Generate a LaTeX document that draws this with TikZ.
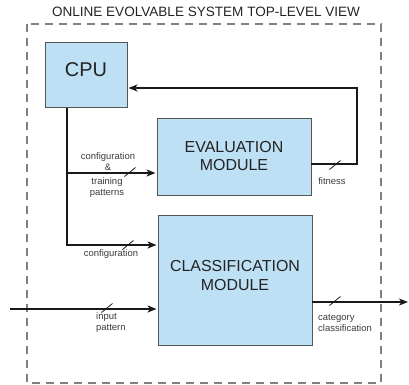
\documentclass[tikz,border=0pt]{standalone}
\usepackage{fontspec}
\setmainfont{Liberation Sans}
\usetikzlibrary{arrows.meta}
\definecolor{boxfill}{RGB}{189,224,244}
\definecolor{boxline}{RGB}{85,85,85}
\definecolor{txt}{RGB}{35,35,35}
\definecolor{lbl}{RGB}{60,60,60}
\tikzset{
  blk/.style={draw=boxline, fill=boxfill, line width=1pt, inner sep=0pt},
  bigtxt/.style={font=\fontsize{16}{19}\selectfont, text=txt, align=center, inner sep=0pt},
  small/.style={font=\fontsize{9.5}{11}\selectfont, text=lbl, inner sep=0pt},
  conn/.style={line width=1.4pt, black!90},
  arr/.style={conn, -{Stealth[length=9bp,width=7bp,inset=2.5bp]}, shorten >=1bp},
  slashm/.pic={\draw[line width=0.8pt, black!90] (-5.5,4.5) -- (5.5,-4.5);},
  frame/.style={draw=gray, line width=1.1pt, dash pattern=on 8bp off 6bp}
}
\begin{document}
\begin{tikzpicture}[x=1bp,y=-1bp]
\useasboundingbox (0,0) rectangle (409,385);
\node[text=txt, font=\fontsize{13.6}{15}\selectfont, inner sep=0pt] (title) at (206,12) {ONLINE EVOLVABLE SYSTEM TOP-LEVEL VIEW};
\draw[frame] (27,24) rectangle (381,383);
% blocks
\node[blk, minimum width=82bp, minimum height=65bp] (cpu) at (86,74.5) {};
\node[blk, minimum width=154bp, minimum height=77bp] (eval) at (234,156.5) {};
\node[blk, minimum width=154bp, minimum height=130bp] (cls) at (235,280) {};
\node[bigtxt, font=\fontsize{20}{24}\selectfont] (cputxt) at (86,70) {CPU};
\node[bigtxt] (evaltxt) at (234,156) {EVALUATION\\MODULE};
\node[bigtxt] (clstxt) at (235,275.5) {CLASSIFICATION\\MODULE};
% coordinates
\coordinate (j1) at (67,173);
\coordinate (j2) at (67,245);
\coordinate (fb1) at (357,164);
\coordinate (fb2) at (357,88);
\coordinate (inp) at (10,309);
\coordinate (outp) at (409,302);
% connectors
\draw[arr] (cpu.south -| j1) -- (j2) -- (j2 -| cls.west);
\draw[arr] (j1) -- (j1 -| eval.west);
\draw[arr] (eval.east |- fb1) -- (fb1) -- (fb2) -- (fb2 -| cpu.east);
\draw[arr] (inp) -- (inp -| cls.west);
\draw[arr] (cls.east |- outp) -- (outp);
% slash marks
\pic at (130,172) {slashm};
\pic at (128,245) {slashm};
\pic at (335,165) {slashm};
\pic at (107,308) {slashm};
\pic at (335,301) {slashm};
% labels
\node[small, align=center] (l1) at (108,161.5) {configuration\\\&};
\node[small, align=center] (l2) at (107,187.5) {training\\patterns};
\node[small] (l3) at (111,254) {configuration};
\node[small] (l4) at (332,181) {fitness};
\node[small, align=left, anchor=west] (l5) at (96,322.5) {input\\pattern};
\node[small, align=left, anchor=west] (l6) at (318,323) {category\\classification};
\end{tikzpicture}
\end{document}
